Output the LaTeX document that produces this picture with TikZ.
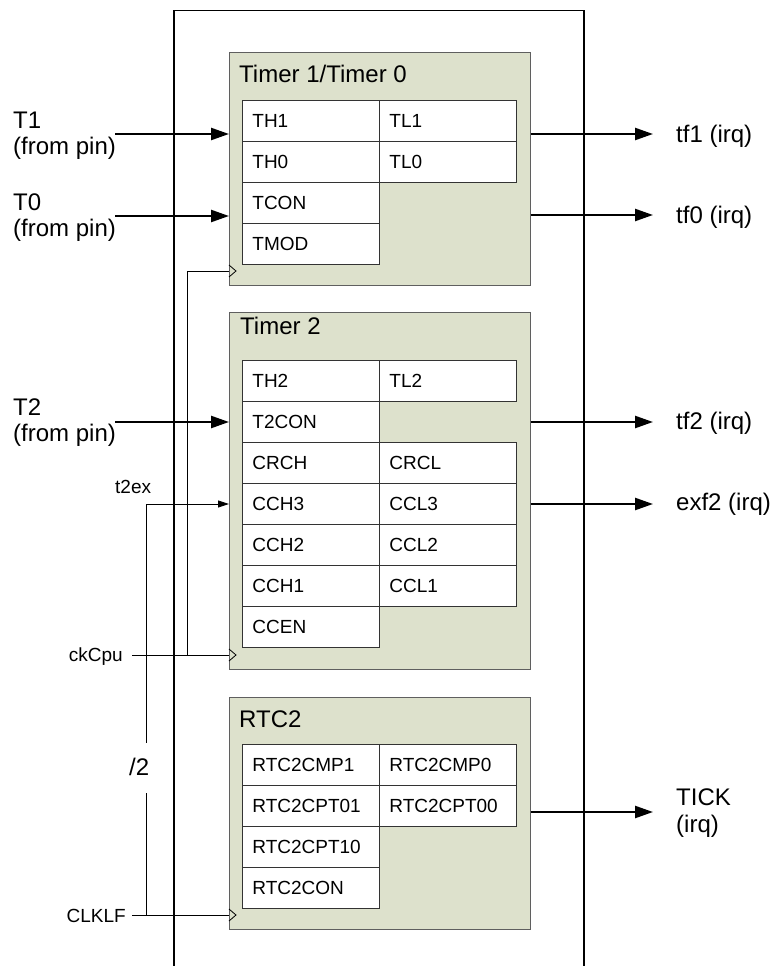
\documentclass[tikz,border=0pt]{standalone}
\usepackage{fontspec}
\setmainfont{Liberation Sans}
\usetikzlibrary{arrows.meta}
\definecolor{blockfill}{RGB}{221,225,204}
\definecolor{blockline}{RGB}{95,95,95}
\tikzset{
  block/.style={draw=blockline, fill=blockfill, anchor=north west, inner sep=0pt, line width=0.9pt},
  cell/.style={draw=black!80, fill=white, anchor=north west, minimum height=41pt, text width=117pt,
    inner xsep=10pt, inner ysep=0pt, align=left, line width=0.8pt, font=\fontsize{19}{21}\selectfont},
  title/.style={anchor=base west, inner sep=0pt, font=\fontsize{24}{27}\selectfont},
  biglbl/.style={anchor=base west, inner sep=0pt, font=\fontsize{24}{27}\selectfont},
  smalllbl/.style={inner sep=0pt, font=\fontsize{19}{21}\selectfont},
  bigarrow/.style={line width=2.4pt, -{Triangle[length=18pt,width=12pt]}},
  thinarrow/.style={line width=0.9pt, -{Triangle[length=11pt,width=7pt]}},
  wire/.style={line width=0.9pt},
  clk/.style={line width=0.8pt}
}

\begin{document}
\begin{tikzpicture}[x=1pt,y=-1pt]
  \useasboundingbox (0,0) rectangle (773,966);
  % -=-=-=-=- OUTER FRAME -=-=-=-=-
  \draw[line width=1.4pt] (174,966) -- (174,10.5) -- (584,10.5) -- (584,966);

  % -=-=-=-=- TIMER 1 / TIMER 0 -=-=-=-=-
  \node[block, minimum width=301pt, minimum height=233pt] (tmr01) at (229,52) {};
  \node[title] (tmr01title) at (239,82) {Timer 1/Timer 0};
  \node[cell] (th1) at (242,100) {TH1};
  \node[cell] (tl1) at (379,100) {TL1};
  \node[cell] (th0) at (242,141) {TH0};
  \node[cell] (tl0) at (379,141) {TL0};
  \node[cell] (tcon) at (242,182) {TCON};
  \node[cell] (tmod) at (242,223) {TMOD};
  \draw[clk] (229,265) -- (236,271) -- (229,277);

  % -=-=-=-=- TIMER 2 -=-=-=-=-
  \node[block, minimum width=301pt, minimum height=357pt] (tmr2) at (229,312) {};
  \node[title] (tmr2title) at (240,334) {Timer 2};
  \node[cell] (th2) at (242,360) {TH2};
  \node[cell] (tl2) at (379,360) {TL2};
  \node[cell] (t2con) at (242,401) {T2CON};
  \node[cell] (crch) at (242,442) {CRCH};
  \node[cell] (crcl) at (379,442) {CRCL};
  \node[cell] (cch3) at (242,483) {CCH3};
  \node[cell] (ccl3) at (379,483) {CCL3};
  \node[cell] (cch2) at (242,524) {CCH2};
  \node[cell] (ccl2) at (379,524) {CCL2};
  \node[cell] (cch1) at (242,565) {CCH1};
  \node[cell] (ccl1) at (379,565) {CCL1};
  \node[cell] (ccen) at (242,606) {CCEN};
  \draw[clk] (229,649) -- (236,655) -- (229,661);

  % -=-=-=-=- RTC2 -=-=-=-=-
  \node[block, minimum width=301pt, minimum height=232pt] (rtc) at (229,697) {};
  \node[title] (rtctitle) at (239,727) {RTC2};
  \node[cell] (cmp1) at (242,744) {RTC2CMP1};
  \node[cell] (cmp0) at (379,744) {RTC2CMP0};
  \node[cell] (cpt01) at (242,785) {RTC2CPT01};
  \node[cell] (cpt00) at (379,785) {RTC2CPT00};
  \node[cell] (cpt10) at (242,826) {RTC2CPT10};
  \node[cell] (rtccon) at (242,867) {RTC2CON};
  \draw[clk] (229,909) -- (236,915) -- (229,921);

  % -=-=-=-=- INPUTS -=-=-=-=-
  \node[biglbl] (t1lbl) at (13,128) {T1};
  \node[biglbl] (t1pin) at (13,154) {(from pin)};
  \node[biglbl] (t0lbl) at (13,210) {T0};
  \node[biglbl] (t0pin) at (13,236) {(from pin)};
  \node[biglbl] (t2lbl) at (13,415) {T2};
  \node[biglbl] (t2pin) at (13,441) {(from pin)};
  \coordinate (t1src) at (115,134);
  \coordinate (t0src) at (115,216);
  \coordinate (t2src) at (115,422);
  \draw[bigarrow] (t1src) -- (t1src -| tmr01.west);
  \draw[bigarrow] (t0src) -- (t0src -| tmr01.west);
  \draw[bigarrow] (t2src) -- (t2src -| tmr2.west);

  \node[smalllbl, anchor=base west] (t2exlbl) at (115,493) {t2ex};
  \node[smalllbl, anchor=base east] (ckcpulbl) at (123,661) {ckCpu};
  \node[smalllbl, anchor=base east] (clklflbl) at (126,922) {CLKLF};
  \node[biglbl] (div2) at (129,775) {/2};
  \coordinate (t2exsrc) at (146,504);
  \coordinate (ckcpu) at (132,655);
  \coordinate (ckjoin) at (187,655);
  \coordinate (clklf) at (132,915);
  \draw[thinarrow] (t2exsrc) -- (t2exsrc -| tmr2.west);
  \draw[wire] (t2exsrc) -- (146,743);
  \draw[wire] (146,793) -- (clklf -| t2exsrc);
  \draw[wire] (ckcpu) -- (ckcpu -| tmr2.west);
  \draw[wire] (ckjoin) -- (187,271) -- (229,271);
  \draw[wire] (clklf) -- (clklf -| rtc.west);

  % -=-=-=-=- OUTPUTS -=-=-=-=-
  \coordinate (tf1dst) at (653,134);
  \coordinate (tf0dst) at (653,215);
  \coordinate (tf2dst) at (653,422);
  \coordinate (exf2dst) at (653,504);
  \coordinate (tickdst) at (653,812);
  \draw[bigarrow] (tf1dst -| tmr01.east) -- (tf1dst);
  \draw[bigarrow] (tf0dst -| tmr01.east) -- (tf0dst);
  \draw[bigarrow] (tf2dst -| tmr2.east) -- (tf2dst);
  \draw[bigarrow] (exf2dst -| tmr2.east) -- (exf2dst);
  \draw[bigarrow] (tickdst -| rtc.east) -- (tickdst);
  \node[biglbl] (tf1lbl) at (676,142) {tf1 (irq)};
  \node[biglbl] (tf0lbl) at (676,223) {tf0 (irq)};
  \node[biglbl] (tf2lbl) at (676,429) {tf2 (irq)};
  \node[biglbl] (exf2lbl) at (676,510) {exf2 (irq)};
  \node[biglbl] (ticklbl) at (676,805) {TICK};
  \node[biglbl] (tickirq) at (676,832) {(irq)};
\end{tikzpicture}
\end{document}
